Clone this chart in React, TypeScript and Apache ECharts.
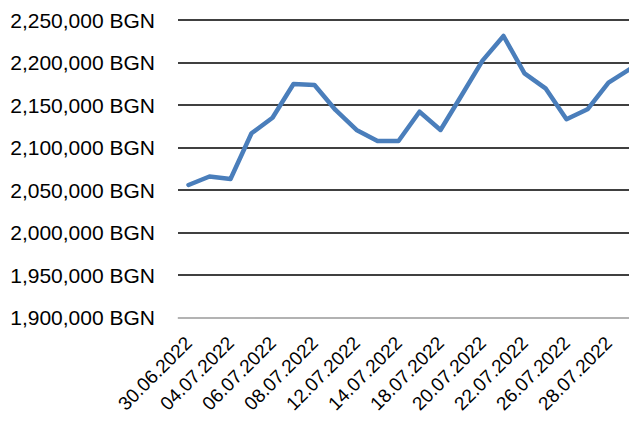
import React, { useEffect, useRef } from "react";
import * as echarts from "echarts";

const categories = [
  "30.06.2022", "01.07.2022", "04.07.2022", "05.07.2022", "06.07.2022", "07.07.2022",
  "08.07.2022", "11.07.2022", "12.07.2022", "13.07.2022", "14.07.2022", "15.07.2022",
  "18.07.2022", "19.07.2022", "20.07.2022", "21.07.2022", "22.07.2022", "25.07.2022",
  "26.07.2022", "27.07.2022", "28.07.2022", "29.07.2022",
];

const values = [
  2056000, 2066000, 2063000, 2116800, 2135100, 2174800,
  2173600, 2144200, 2120700, 2107800, 2107800, 2142200,
  2120700, 2161200, 2202200, 2231200, 2187300, 2169700,
  2133300, 2145000, 2176300, 2192000,
];

const yMin = 1900000;
const yMax = 2250000;
const yInterval = 50000;

const FONT = "Liberation Sans";

export default function App() {
  const ref = useRef<HTMLDivElement>(null);

  useEffect(() => {
    if (!ref.current) return;
    const chart = echarts.init(ref.current, null, { renderer: "svg" });
    chart.setOption({
      animation: false,
      backgroundColor: "#ffffff",
      grid: {
        left: 178,
        right: 0,
        top: 20,
        bottom: 105.3,
        containLabel: false,
        outerBoundsMode: "none",
      },
      xAxis: {
        type: "category",
        data: categories,
        boundaryGap: true,
        axisLine: { show: true, lineStyle: { color: "#d9d9d9", width: 1.5 } },
        axisTick: { show: false },
        axisLabel: {
          interval: 1,
          rotate: 45,
          margin: 22,
          color: "#000000",
          fontFamily: FONT,
          fontSize: 19,
        },
        splitLine: { show: false },
      },
      yAxis: {
        type: "value",
        min: yMin,
        max: yMax,
        interval: yInterval,
        axisLine: { show: false },
        axisTick: { show: false },
        axisLabel: {
          margin: 23,
          color: "#000000",
          fontFamily: FONT,
          fontSize: 21,
          formatter: (v: number) => v.toLocaleString("en-US") + " BGN",
        },
        splitLine: { show: true, lineStyle: { color: "#000000", width: 1.6 } },
      },
      series: [
        {
          type: "line",
          data: values,
          symbol: "none",
          lineStyle: { color: "#4a7ebb", width: 4.5, join: "round", cap: "round" },
          itemStyle: { color: "#4a7ebb" },
        },
      ],
    });
    return () => chart.dispose();
  }, []);

  return (
    <div style={{ position: "absolute", left: 0, top: 0, width: 629, height: 423, overflow: "hidden", background: "#fff" }}>
      <div ref={ref} style={{ width: 640, height: 423 }} />
    </div>
  );
}
